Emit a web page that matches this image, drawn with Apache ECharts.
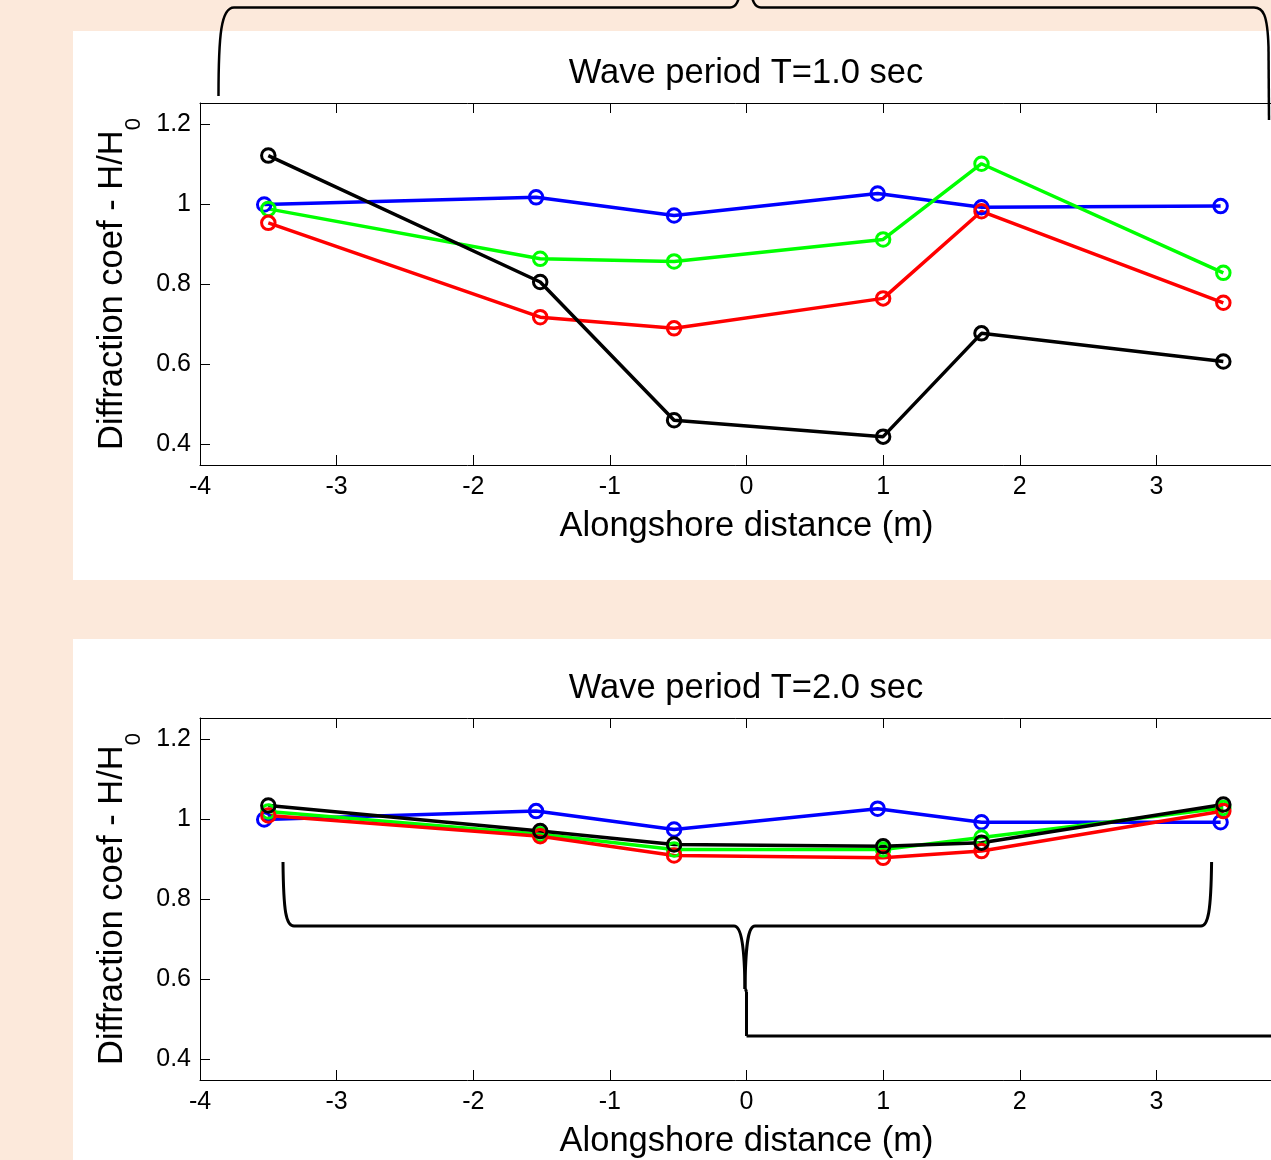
<!DOCTYPE html>
<html>
<head>
<meta charset="utf-8">
<script src="https://cdn.jsdelivr.net/npm/echarts@6/dist/echarts.min.js"></script>
<style>
html,body{margin:0;padding:0;background:#fce9db;}
#c{width:1271px;height:1160px;}
</style>
</head>
<body>
<div id="c"></div>
<script>
// ---- data ----
const titles = ['Wave period T=1.0 sec', 'Wave period T=2.0 sec'];
const xTitle = 'Alongshore distance (m)';
const yTitleMain = 'Diffraction coef - H/H';
const yTitleSub = '0';
const yTicks = [0.4, 0.6, 0.8, 1, 1.2];
const xBlue = [-3.53, -1.54, -0.53, 0.96, 1.72, 3.47];
const xOther = [-3.5, -1.51, -0.53, 1.0, 1.72, 3.49];
// T = 1.0 sec
const blue1  = [1.0, 1.018, 0.9725, 1.0275, 0.993, 0.996];
const green1 = [0.989, 0.864, 0.8575, 0.9125, 1.102, 0.829];
const red1   = [0.954, 0.718, 0.69, 0.765, 0.983, 0.754];
const black1 = [1.1225, 0.806, 0.46, 0.419, 0.6775, 0.607];
// T = 2.0 sec
const blue2  = [1.0, 1.021, 0.975, 1.027, 0.993, 0.993];
const green2 = [1.02, 0.963, 0.925, 0.925, 0.955, 1.029];
const red2   = [1.01, 0.958, 0.91, 0.904, 0.921, 1.021];
const black2 = [1.035, 0.971, 0.9375, 0.933, 0.942, 1.0375];

const FONT = 'Liberation Sans, Arial, sans-serif';
const chart = echarts.init(document.getElementById('c'), null, {renderer:'canvas'});

const gridTops = [103, 718];
const grids = gridTops.map(t => ({left:200, top:t, width:1093, height:362, containLabel:false, outerBoundsMode:'none'}));

const xAxes = [], yAxes = [];
gridTops.forEach((t, i) => {
  const common = {
    type:'value', gridIndex:i, min:-4, max:4, interval:1,
    axisLine:{show:true, onZero:false, lineStyle:{color:'#000', width:1}},
    axisTick:{show:true, inside:true, length:10, lineStyle:{color:'#000'}},
    splitLine:{show:false}
  };
  xAxes.push(Object.assign({}, common, {
    position:'bottom',
    axisLabel:{show:true, fontSize:25, color:'#000', fontFamily:FONT, margin:10},
    name:xTitle, nameLocation:'middle', nameGap:44,
    nameTextStyle:{fontSize:34.5, color:'#000', fontFamily:FONT}
  }));
  xAxes.push(Object.assign({}, common, {position:'top', axisLabel:{show:false}}));
  const ycommon = {
    type:'value', gridIndex:i, min:0.348, max:1.254,
    axisLine:{show:true, onZero:false, lineStyle:{color:'#000', width:1}},
    axisTick:{show:true, inside:true, length:10, customValues:yTicks, lineStyle:{color:'#000'}},
    splitLine:{show:false}
  };
  yAxes.push(Object.assign({}, ycommon, {
    position:'left',
    axisLabel:{show:true, fontSize:25, color:'#000', fontFamily:FONT, margin:9, customValues:yTicks},
    name:'{a|' + yTitleMain + '}{b|' + yTitleSub + '}',
    nameLocation:'middle', nameGap:56, nameRotate:90,
    nameTextStyle:{
      color:'#000', fontFamily:FONT, fontSize:34.5,
      rich:{
        a:{fontSize:34.5, lineHeight:34, verticalAlign:'top', fontFamily:FONT, color:'#000'},
        b:{fontSize:22, lineHeight:22, verticalAlign:'top', padding:[28,0,0,0], fontFamily:FONT, color:'#000'}
      }
    }
  }));
  yAxes.push(Object.assign({}, ycommon, {position:'right', axisLabel:{show:false}}));
});

function mk(name, xs, ys, color, gi) {
  return {
    name:name, type:'line', xAxisIndex:gi*2, yAxisIndex:gi*2,
    data: xs.map((x, k) => [x, ys[k]]),
    symbol:'circle', symbolSize:13.5,
    lineStyle:{color:color, width:3.5},
    itemStyle:{color:'rgba(255,255,255,0)', borderColor:color, borderWidth:3},
    emphasis:{disabled:true}, silent:true
  };
}
const series = [
  mk('blue1', xBlue, blue1, '#0000ff', 0),
  mk('green1', xOther, green1, '#00ff00', 0),
  mk('red1', xOther, red1, '#ff0000', 0),
  mk('black1', xOther, black1, '#000000', 0),
  mk('blue2', xBlue, blue2, '#0000ff', 1),
  mk('green2', xOther, green2, '#00ff00', 1),
  mk('red2', xOther, red2, '#ff0000', 1),
  mk('black2', xOther, black2, '#000000', 1)
];

// decorative brace shapes
function seg(x1,y1,x2,y2,w){return {type:'line', z:100, shape:{x1:x1,y1:y1,x2:x2,y2:y2}, style:{stroke:'#000', lineWidth:w}};}
function bez(x1,y1,c1x,c1y,c2x,c2y,x2,y2,w){return {type:'bezierCurve', z:100, shape:{x1:x1,y1:y1,cpx1:c1x,cpy1:c1y,cpx2:c2x,cpy2:c2y,x2:x2,y2:y2}, style:{stroke:'#000', fill:null, lineWidth:w}};}
const tw = 2.5, bw = 3;
const braces = [
  // top
  bez(218.5,96, 218.5,35, 221,7.5, 234,7.5, tw),
  seg(234,7.5,730,7.5,tw),
  bez(730,7.5, 736,7.5, 739,2, 741,-14, tw),
  bez(750,-14, 752,2, 755,7.5, 761,7.5, tw),
  seg(761,7.5,1254,7.5,tw),
  bez(1254,7.5, 1263,7.5, 1267.5,14, 1268.5,47, tw),
  seg(1268.5,47,1269,120,tw),
  // bottom
  bez(283,862, 283.5,912, 286,926, 294,926, bw),
  seg(294,926,734,926,bw),
  bez(734,926, 741,926, 744.5,945, 745,989, bw),
  bez(755,926, 748,926, 745.5,945, 745,989, bw),
  seg(755,926,1201,926,bw),
  bez(1201,926, 1208,926, 1211,912, 1211.6,862, bw),
  seg(745.5,989,746.5,992,bw),
  seg(746.5,992,746.5,1036,bw),
  seg(746.5,1036,1290,1036,bw)
];

const graphic = [
  {type:'rect', z:-10, shape:{x:73, y:31, width:1300, height:549}, style:{fill:'#ffffff'}},
  {type:'rect', z:-10, shape:{x:73, y:639, width:1300, height:600}, style:{fill:'#ffffff'}},
  {type:'text', z:10, x:746, y:73, style:{text:titles[0], fontSize:34.5, fontFamily:FONT, fill:'#000', align:'center', verticalAlign:'middle'}},
  {type:'text', z:10, x:746, y:688, style:{text:titles[1], fontSize:34.5, fontFamily:FONT, fill:'#000', align:'center', verticalAlign:'middle'}}
].concat(braces);

chart.setOption({
  backgroundColor:'#fce9db',
  animation:false,
  grid:grids,
  xAxis:xAxes,
  yAxis:yAxes,
  series:series,
  graphic:graphic
});
</script>
</body>
</html>
